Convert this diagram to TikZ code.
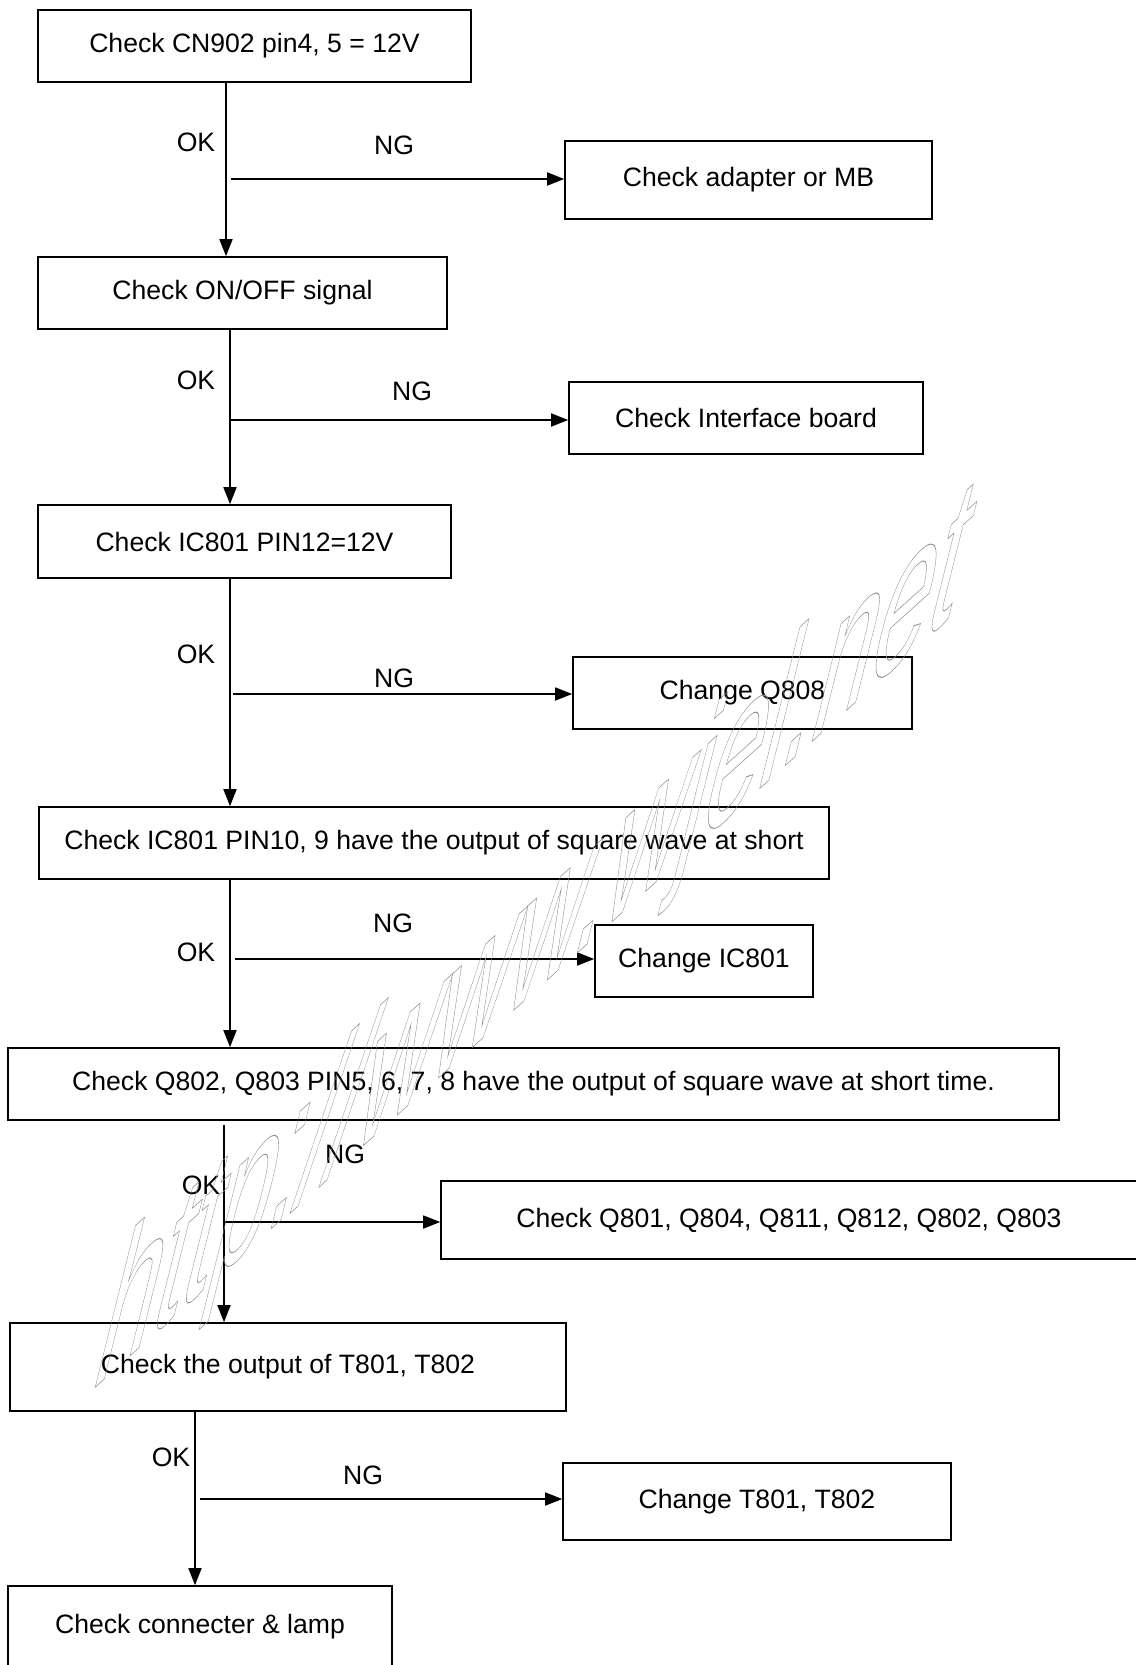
\documentclass[tikz,border=0pt]{standalone}
\usepackage{fontspec}
\setmainfont{Liberation Sans}
\usepackage{xcolor}
\usepackage{tikz}
\usetikzlibrary{arrows.meta,positioning,calc}
\definecolor{wcol}{RGB}{140,140,140}
\newcommand{\hollowtext}[1]{\special{pdf:literal direct 1 Tr 0.4 w}#1\special{pdf:literal direct 0 Tr}}

\begin{document}
\begin{tikzpicture}[x=1pt, y=-1pt, >={Triangle[length=17pt,width=13pt]},
  every node/.style={font=\fontsize{26.6}{32}\selectfont, inner sep=0pt},
  box/.style={draw, line width=1.6pt},
  flow/.style={->, line width=1.6pt}]
\useasboundingbox (0,0) rectangle (1135,1665);
% checks down the left side
\node[box, minimum width=433, minimum height=72] (chk1) at (254.5,46) {Check CN902 pin4, 5 = 12V};
\node[box, minimum width=409, minimum height=72] (chk2) at (242.5,293) {Check ON/OFF signal};
\node[box, minimum width=413, minimum height=73] (chk3) at (244.5,541.5) {Check IC801 PIN12=12V};
\node[box, minimum width=790, minimum height=72] (chk4) at (434,843) {Check IC801 PIN10, 9 have the output of square wave at short};
\node[box, minimum width=1051, minimum height=72] (chk5) at (533.5,1084) {Check Q802, Q803 PIN5, 6, 7, 8 have the output of square wave at short time.};
\node[box, minimum width=556, minimum height=88] (chk6) at (288,1367) {Check the output of T801, T802};
\node[box, minimum width=384, minimum height=81] (chk7) at (200,1626.5) {Check connecter \& lamp};
% repairs on the right
\node[box, minimum width=367, minimum height=78] (fix1) at (748.5,180) {Check adapter or MB};
\node[box, minimum width=354, minimum height=72] (fix2) at (746,418) {Check Interface board};
\node[box, minimum width=339, minimum height=72] (fix3) at (742.5,693) {Change Q808};
\node[box, minimum width=218, minimum height=72] (fix4) at (704,961) {Change IC801};
\node[box, minimum width=696, minimum height=78] (fix5) at (789,1220) {Check Q801, Q804, Q811, Q812, Q802, Q803};
\node[box, minimum width=388, minimum height=77] (fix6) at (757,1501.5) {Change T801, T802};
% branch points
\coordinate (j1) at (226,179);
\coordinate (j2) at (230,420);
\coordinate (j3) at (230,694);
\coordinate (j4) at (230,959);
\coordinate (j5) at (224,1222);
\coordinate (j6) at (195,1499);
\draw[flow] (chk1.south -| j1) -- (chk2.north -| j1);
\draw[flow] (chk2.south -| j2) -- (chk3.north -| j2);
\draw[flow] (chk3.south -| j3) -- (chk4.north -| j3);
\draw[flow] (chk4.south -| j4) -- (chk5.north -| j4);
\draw[flow, shorten <=4pt] (chk5.south -| j5) -- (chk6.north -| j5);
\draw[flow] (chk6.south -| j6) -- (chk7.north -| j6);
\draw[flow, shorten <=5pt] (j1) -- (fix1.west |- j1);
\draw[flow] (j2) -- (fix2.west |- j2);
\draw[flow, shorten <=3pt] (j3) -- (fix3.west |- j3);
\draw[flow, shorten <=5pt] (j4) -- (fix4.west |- j4);
\draw[flow, shorten <=1pt] (j5) -- (fix5.west |- j5);
\draw[flow, shorten <=5pt] (j6) -- (fix6.west |- j6);
\node (ok1) at (196,142) {OK};
\node (ok2) at (196,380) {OK};
\node (ok3) at (196,654) {OK};
\node (ok4) at (196,952) {OK};
\node (ok5) at (201,1185) {OK};
\node (ok6) at (171,1457) {OK};
\node (ng1) at (394,145) {NG};
\node (ng2) at (412,391) {NG};
\node (ng3) at (394,678) {NG};
\node (ng4) at (393,923) {NG};
\node (ng5) at (345,1154) {NG};
\node (ng6) at (363,1475) {NG};
% watermark
\begin{scope}[shift={(533,948)}]
\node[transform shape, cm={1.040,0.937,0.556,2.232,(0,0)}, text=wcol,
  font=\fontsize{100}{100}\selectfont] (wmark) at (0,0) {\hollowtext{http://www.wjel.net}};
\end{scope}
\end{tikzpicture}
\end{document}
